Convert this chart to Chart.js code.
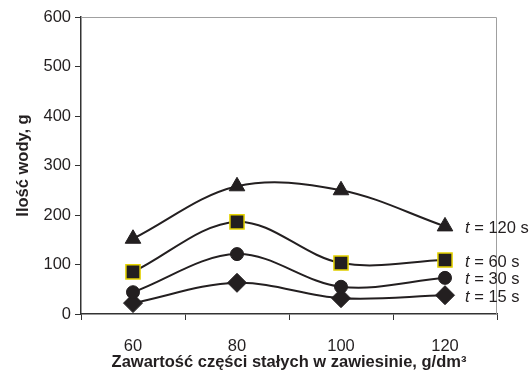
<!DOCTYPE html>
<html>
<head>
<meta charset="utf-8">
<script src="https://cdn.jsdelivr.net/npm/chart.js@4/dist/chart.umd.min.js"></script>
<style>
  html, body { margin: 0; padding: 0; background: #fff; }
  #wrap { width: 532px; height: 377px; position: relative; }
</style>
</head>
<body>
<div id="wrap"><canvas id="chart"></canvas></div>
<script>
// solids content, g/dm3
const categories = ['60', '80', '100', '120'];
// water amount, g  (one array per time)
const water120 = [152, 258, 250, 177];
const water60 = [85, 186, 103, 109];
const water30 = [44, 121, 55, 73];
const water15 = [22, 63, 32, 38];
const seriesTimes = ['120', '60', '30', '15'];
const yTicks = [0, 100, 200, 300, 400, 500, 600];

const FONT = '"Liberation Sans", Arial, sans-serif';
const INK = '#231f20';

// plot frame: grey top & right lines, series labels "t = .. s" next to last points
const framePlugin = {
  id: 'frame',
  afterDraw(chart) {
    const { ctx, chartArea: a } = chart;
    ctx.save();
    ctx.strokeStyle = '#a0a0a0';
    ctx.lineWidth = 1;
    ctx.beginPath();
    ctx.moveTo(a.left, a.top + 0.5);
    ctx.lineTo(a.right - 0.5, a.top + 0.5);
    ctx.lineTo(a.right - 0.5, a.bottom);
    ctx.stroke();

    ctx.fillStyle = INK;
    ctx.textBaseline = 'middle';
    chart.data.datasets.forEach((ds, i) => {
      const pts = chart.getDatasetMeta(i).data;
      const p = pts[pts.length - 1];
      const x = p.x + 20;
      const y = p.y + 2;
      ctx.font = 'italic 16.5px ' + FONT;
      ctx.fillText('t', x, y);
      const w = ctx.measureText('t').width;
      ctx.font = '16.5px ' + FONT;
      ctx.fillText(' = ' + seriesTimes[i] + ' s', x + w, y);
    });
    ctx.restore();
  }
};

function series(data, style, radius, border) {
  return {
    data: data,
    borderColor: INK,
    borderWidth: 2,
    tension: 0.35,
    pointStyle: style,
    pointRadius: radius,
    pointBackgroundColor: INK,
    pointBorderColor: border || INK,
    pointBorderWidth: border ? 1.5 : 1,
    clip: false
  };
}

new Chart(document.getElementById('chart'), {
  type: 'line',
  data: {
    labels: categories,
    datasets: [
      series(water120, 'triangle', 9),
      series(water60, 'rect', 10, '#e6d400'),
      series(water30, 'circle', 6.5),
      series(water15, 'rectRot', 9.5)
    ]
  },
  options: {
    responsive: true,
    maintainAspectRatio: false,
    animation: false,
    devicePixelRatio: 1,
    layout: { padding: { top: 17, right: 35, left: 0, bottom: 0 } },
    plugins: { legend: { display: false }, tooltip: { enabled: false } },
    scales: {
      x: {
        offset: true,
        grid: { offset: true, drawOnChartArea: false, tickLength: 6, color: '#333', tickColor: '#333' },
        border: { color: '#333', width: 1.5 },
        ticks: { color: INK, font: { family: FONT, size: 16.5 }, padding: 17, autoSkip: false, maxRotation: 0 },
        title: {
          display: true,
          text: 'Zawartość części stałych w zawiesinie, g/dm³',
          color: INK,
          font: { family: FONT, size: 16.5, weight: 'bold' },
          padding: { top: 0, bottom: 5 }
        },
        afterFit(scale) { scale.height = 63; }
      },
      y: {
        min: 0,
        max: 600,
        afterBuildTicks(scale) { scale.ticks = yTicks.map(v => ({ value: v })); },
        grid: { drawOnChartArea: false, tickLength: 6, color: '#333', tickColor: '#333' },
        border: { color: '#333', width: 1.5 },
        ticks: { color: INK, font: { family: FONT, size: 16.5 }, padding: 4 },
        title: {
          display: true,
          text: 'Ilość wody, g',
          color: INK,
          font: { family: FONT, size: 16.5, weight: 'bold' },
          padding: { top: 14, bottom: 6 }
        },
        afterFit(scale) { scale.width = 81; }
      }
    }
  },
  plugins: [framePlugin]
});
</script>
</body>
</html>
